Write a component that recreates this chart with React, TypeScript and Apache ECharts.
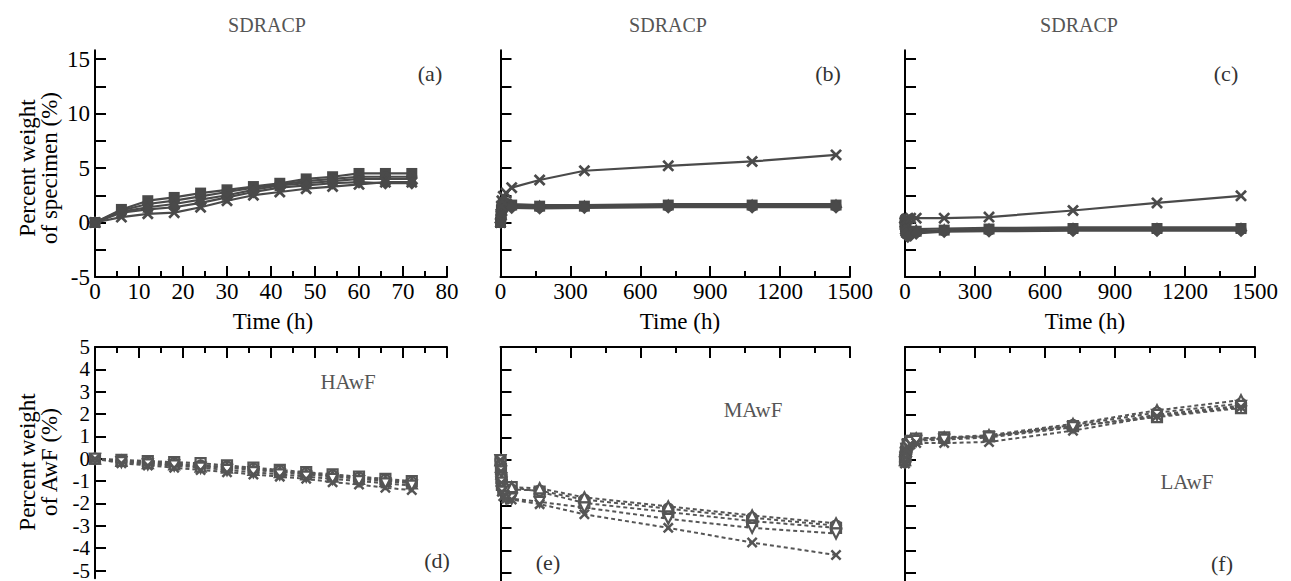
import React, { useEffect, useRef } from "react";
import * as echarts from "echarts";

// ---------- data ----------
const hoursShort = [0, 6, 12, 18, 24, 30, 36, 42, 48, 54, 60, 66, 72];
const hoursLong = [0, 2, 4, 6, 12, 24, 48, 168, 360, 720, 1080, 1440];

// (a) SDRACP, 0-72 h
const aSquare = [0, 1.2, 2.0, 2.3, 2.7, 3.0, 3.3, 3.6, 4.0, 4.2, 4.5, 4.5, 4.5];
const aCircle = [0, 1.1, 1.7, 2.0, 2.4, 2.8, 3.2, 3.5, 3.8, 4.0, 4.2, 4.2, 4.2];
const aTriangle = [0, 1.0, 1.4, 1.7, 2.1, 2.5, 3.0, 3.4, 3.6, 3.8, 4.0, 4.0, 4.0];
const aDiamond = [0, 0.9, 1.2, 1.4, 1.8, 2.3, 2.8, 3.2, 3.4, 3.6, 3.7, 3.6, 3.6];
const aCross = [0, 0.5, 0.8, 0.9, 1.4, 2.0, 2.5, 2.8, 3.1, 3.3, 3.5, 3.7, 3.7];

// (b) SDRACP, 0-1440 h
const bSquare = [0, 0.6, 1.1, 1.5, 1.8, 1.7, 1.6, 1.5, 1.5, 1.6, 1.6, 1.6];
const bCircle = [0, 0.5, 1.0, 1.3, 1.6, 1.6, 1.5, 1.4, 1.45, 1.5, 1.5, 1.5];
const bTriangle = [0, 0.8, 1.4, 1.9, 2.1, 1.9, 1.7, 1.6, 1.6, 1.7, 1.7, 1.7];
const bDiamond = [0, 0.3, 0.7, 1.0, 1.3, 1.4, 1.35, 1.3, 1.35, 1.4, 1.4, 1.4];
const bCross = [0, 0.8, 1.5, 2.0, 2.4, 2.7, 3.2, 3.9, 4.75, 5.2, 5.6, 6.2];

// (c) SDRACP, 0-1440 h
const cSquare = [0, -0.4, -0.7, -0.9, -1.0, -0.9, -0.8, -0.7, -0.6, -0.55, -0.55, -0.55];
const cCircle = [0, -0.5, -0.8, -1.0, -1.1, -1.0, -0.9, -0.75, -0.7, -0.65, -0.65, -0.65];
const cTriangle = [0, -0.3, -0.5, -0.7, -0.8, -0.7, -0.6, -0.55, -0.5, -0.45, -0.45, -0.45];
const cDiamond = [0, -0.6, -1.0, -1.2, -1.3, -1.2, -1.0, -0.85, -0.8, -0.75, -0.75, -0.75];
const cCross = [0, 0.15, 0.25, 0.3, 0.35, 0.4, 0.4, 0.4, 0.5, 1.1, 1.8, 2.45];

// (d) HAwF, 0-72 h
const dSquare = [0, -0.05, -0.1, -0.15, -0.2, -0.3, -0.4, -0.5, -0.6, -0.7, -0.8, -0.9, -1.0];
const dCircle = [0, -0.1, -0.15, -0.2, -0.3, -0.35, -0.45, -0.55, -0.65, -0.75, -0.85, -0.95, -1.05];
const dTriangle = [0, -0.1, -0.2, -0.25, -0.35, -0.4, -0.5, -0.6, -0.7, -0.8, -0.9, -1.0, -1.1];
const dInvTriangle = [0, -0.15, -0.25, -0.3, -0.4, -0.5, -0.6, -0.7, -0.8, -0.9, -1.0, -1.1, -1.2];
const dCross = [0, -0.2, -0.3, -0.4, -0.5, -0.6, -0.7, -0.8, -0.9, -1.05, -1.15, -1.3, -1.4];

// (e) MAwF, 0-1440 h
const eTriangle = [0, -0.3, -0.6, -0.9, -1.1, -1.2, -1.2, -1.25, -1.65, -2.05, -2.45, -2.8];
const eCircle = [0, -0.3, -0.7, -1.0, -1.2, -1.3, -1.3, -1.35, -1.75, -2.15, -2.55, -2.9];
const eSquare = [0, -0.4, -0.8, -1.1, -1.3, -1.4, -1.2, -1.4, -1.9, -2.3, -2.7, -3.0];
const eInvTriangle = [0, -0.5, -1.0, -1.4, -1.6, -1.7, -1.7, -1.85, -2.1, -2.6, -3.0, -3.25];
const eCross = [0, -0.5, -1.0, -1.4, -1.6, -1.7, -1.75, -1.95, -2.4, -3.0, -3.65, -4.2];

// (f) LAwF, 0-1440 h
const fTriangle = [0, 0.2, 0.4, 0.6, 0.8, 0.9, 0.95, 1.0, 1.1, 1.6, 2.2, 2.65];
const fCircle = [-0.1, 0.2, 0.4, 0.55, 0.75, 0.85, 0.9, 0.95, 1.05, 1.55, 2.1, 2.5];
const fSquare = [0, 0.15, 0.35, 0.5, 0.7, 0.85, 0.95, 1.0, 1.05, 1.5, 1.9, 2.3];
const fInvTriangle = [-0.1, 0.1, 0.3, 0.5, 0.65, 0.8, 0.85, 0.9, 1.0, 1.45, 2.0, 2.4];
const fCross = [-0.15, 0.1, 0.3, 0.45, 0.6, 0.7, 0.75, 0.75, 0.8, 1.3, 1.95, 2.35];

const topYTicks = [-5, -2.5, 0, 2.5, 5, 7.5, 10, 12.5, 15];
const topYLabels = [-5, 0, 5, 10, 15];
const bottomYTicks = [-5, -4, -3, -2, -1, 0, 1, 2, 3, 4, 5];

const panelTitles = ["SDRACP", "SDRACP", "SDRACP"];
const panelLetters = ["(a)", "(b)", "(c)", "(d)", "(e)", "(f)"];
const materialLabels = ["HAwF", "MAwF", "LAwF"];

// ---------- style ----------
const FONT = "Liberation Serif, Times New Roman, serif";
const DARK = "#4a4a4a";
const GRAY = "#555555";
const CROSS =
  "path://M0,1.6L1.6,0L5,3.4L8.4,0L10,1.6L6.6,5L10,8.4L8.4,10L5,6.6L1.6,10L0,8.4L3.4,5Z";

const colLeft = [95, 500.5, 905];
const colWidth = [352, 349.5, 350];

export default function App() {
  const ref = useRef<HTMLDivElement>(null);

  useEffect(() => {
    if (!ref.current) return;
    const chart = echarts.init(ref.current, null, { renderer: "svg" });

    const grids: any[] = [];
    const xAxes: any[] = [];
    const yAxes: any[] = [];
    const series: any[] = [];
    const plain = (v: number) => String(v);

    for (let i = 0; i < 6; i++) {
      const col = i % 3;
      const top = i < 3;
      grids.push(
        top
          ? { left: colLeft[col], width: colWidth[col], top: 50.3, height: 226.7 }
          : { left: colLeft[col], width: colWidth[col], top: 347, height: 234 }
      );
      const short = col === 0;
      xAxes.push({
        type: "value",
        gridIndex: i,
        min: 0,
        max: short ? 80 : 1500,
        interval: short ? 10 : 300,
        position: top ? "bottom" : "top",
        axisLine: { onZero: false, lineStyle: { color: "#000", width: 2 } },
        axisTick: { inside: true, length: 11, lineStyle: { color: "#000", width: 2 } },
        minorTick: { show: true, splitNumber: 2, length: 6, lineStyle: { color: "#000", width: 2 } },
        axisLabel: {
          show: top,
          color: "#000",
          fontFamily: FONT,
          fontSize: 23,
          margin: 3,
          formatter: plain,
        },
        splitLine: { show: false },
      });
      yAxes.push(
        top
          ? {
              type: "value",
              gridIndex: i,
              min: -5,
              max: 15.8,
              axisLine: { onZero: false, lineStyle: { color: "#000", width: 2 } },
              axisTick: {
                inside: true,
                length: 11,
                customValues: topYTicks,
                lineStyle: { color: "#000", width: 2 },
              },
              axisLabel: {
                show: col === 0,
                customValues: topYLabels,
                color: "#000",
                fontFamily: FONT,
                fontSize: 23,
                margin: 5,
                formatter: plain,
              },
              splitLine: { show: false },
            }
          : {
              type: "value",
              gridIndex: i,
              min: -5.35,
              max: 5,
              axisLine: { onZero: false, lineStyle: { color: "#000", width: 2 } },
              axisTick: {
                inside: true,
                length: 11,
                customValues: bottomYTicks,
                lineStyle: { color: "#000", width: 2 },
              },
              axisLabel: {
                show: col === 0,
                customValues: bottomYTicks,
                color: "#000",
                fontFamily: FONT,
                fontSize: 21,
                lineHeight: 18,
                margin: 5,
                formatter: plain,
              },
              splitLine: { show: false },
            }
      );
    }

    const topSym = ["rect", "circle", "triangle", "diamond", CROSS];
    const topSets = [
      [aSquare, aCircle, aTriangle, aDiamond, aCross],
      [bSquare, bCircle, bTriangle, bDiamond, bCross],
      [cSquare, cCircle, cTriangle, cDiamond, cCross],
    ];
    const topNames = ["square", "circle", "triangle", "diamond", "cross"];
    topSets.forEach((set, p) => {
      const xs = p === 0 ? hoursShort : hoursLong;
      set.forEach((vals, k) => {
        series.push({
          type: "line",
          name: `${panelLetters[p]} ${topNames[k]}`,
          xAxisIndex: p,
          yAxisIndex: p,
          data: xs.map((x, j) => [x, vals[j]]),
          symbol: topSym[k],
          symbolSize: k === 4 ? 12 : k === 3 ? 13 : 11,
          clip: false,
          lineStyle: { color: DARK, width: 2.2 },
          itemStyle: { color: DARK },
          z: 3,
        });
      });
    });

    const botSym = ["rect", "circle", "triangle", "triangle", CROSS];
    const botRot = [0, 0, 0, 180, 0];
    const botNames = ["square", "circle", "triangle", "inverted triangle", "cross"];
    const botSets = [
      [dSquare, dCircle, dTriangle, dInvTriangle, dCross],
      [eSquare, eCircle, eTriangle, eInvTriangle, eCross],
      [fSquare, fCircle, fTriangle, fInvTriangle, fCross],
    ];
    botSets.forEach((set, p) => {
      const xs = p === 0 ? hoursShort : hoursLong;
      set.forEach((vals, k) => {
        const cross = k === 4;
        series.push({
          type: "line",
          name: `${panelLetters[p + 3]} ${botNames[k]}`,
          xAxisIndex: p + 3,
          yAxisIndex: p + 3,
          data: xs.map((x, j) => [x, vals[j]]),
          symbol: botSym[k],
          symbolRotate: botRot[k],
          symbolSize: cross ? 11 : 10,
          clip: false,
          lineStyle: { color: GRAY, width: 2, type: [4, 3] },
          itemStyle: cross
            ? { color: GRAY, borderWidth: 0 }
            : { color: "#ffffff", borderColor: GRAY, borderWidth: 2.2 },
          z: 3,
        });
      });
    });

    const txt = (text: string, x: number, y: number, size: number, fill: string, extra: any = {}) => ({
      type: "text",
      x,
      y,
      ...extra,
      style: {
        text,
        fontFamily: FONT,
        fontSize: size,
        fill,
        align: "center",
        verticalAlign: "middle",
        lineHeight: 22,
      },
      z: 10,
    });

    const graphic: any[] = [
      txt(panelTitles[0], 267, 25, 20, GRAY),
      txt(panelTitles[1], 668, 25, 20, GRAY),
      txt(panelTitles[2], 1079, 25, 20, GRAY),
      txt(panelLetters[0], 430, 73, 22, "#333"),
      txt(panelLetters[1], 828, 73, 22, "#333"),
      txt(panelLetters[2], 1226, 73, 22, "#333"),
      txt(panelLetters[3], 437, 560, 22, "#333"),
      txt(panelLetters[4], 548, 562, 22, "#333"),
      txt(panelLetters[5], 1222, 563, 22, "#333"),
      txt("Time (h)", 273, 321, 23, "#000"),
      txt("Time (h)", 680, 321, 23, "#000"),
      txt("Time (h)", 1085, 321, 23, "#000"),
      txt(materialLabels[0], 348, 382, 21, GRAY),
      txt(materialLabels[1], 753, 410, 21, GRAY),
      txt(materialLabels[2], 1187, 482, 21, GRAY),
      txt("Percent weight\nof specimen (%)", 38, 168, 23, "#000", { rotation: Math.PI / 2 }),
      txt("Percent weight\nof AwF (%)", 38, 462, 23, "#000", { rotation: Math.PI / 2 }),
    ];

    chart.setOption({
      animation: false,
      backgroundColor: "#ffffff",
      grid: grids,
      xAxis: xAxes,
      yAxis: yAxes,
      series,
      graphic,
    });

    return () => chart.dispose();
  }, []);

  return (
    <div
      ref={ref}
      style={{ position: "fixed", left: 0, top: 0, width: 1291, height: 581, background: "#fff" }}
    />
  );
}
